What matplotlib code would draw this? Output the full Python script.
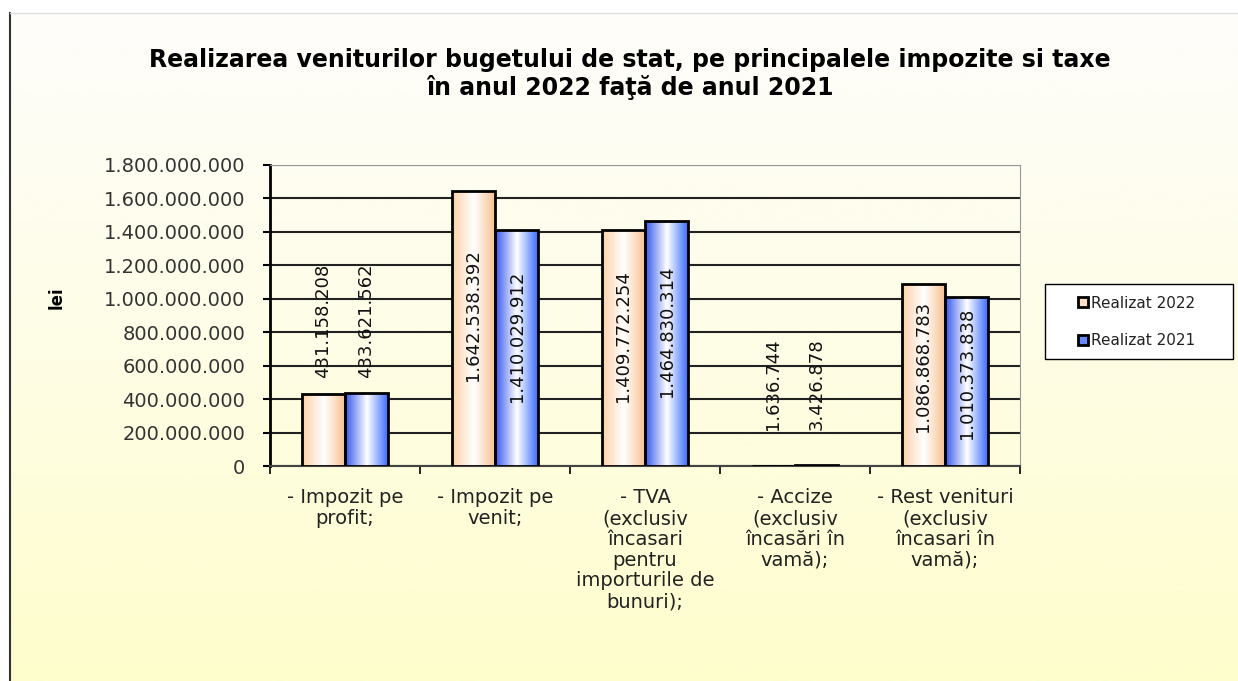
import matplotlib
matplotlib.use("Agg")
import matplotlib.pyplot as plt
from matplotlib.colors import LinearSegmentedColormap
from matplotlib.patches import Patch, Rectangle
from matplotlib.ticker import FuncFormatter, MultipleLocator
import numpy as np

plt.rcParams['font.family'] = ['DejaVu Sans']

categorii = [
    "- Impozit pe\nprofit;",
    "- Impozit pe\nvenit;",
    "- TVA\n(exclusiv\nîncasari\npentru\nimporturile de\nbunuri);",
    "- Accize\n(exclusiv\nîncasări în\nvamă);",
    "- Rest venituri\n(exclusiv\nîncasari în\nvamă);",
]
realizat_2022 = [431158208, 1642538392, 1409772254, 1636744, 1086868783]
realizat_2021 = [433621562, 1410029912, 1464830314, 3426878, 1010373838]
serii = ["Realizat 2022", "Realizat 2021"]

def fmt_ro(v, pos=None):
    return f"{int(v):,}".replace(",", ".")

fig = plt.figure(figsize=(12.38, 6.81), dpi=100)
fig.patch.set_facecolor("white")

# fundal cu gradient (zona graficului)
bg = fig.add_axes([10 / 1238, 0, 1 - 10 / 1238, (681 - 13) / 681], zorder=-1)
grad = np.linspace(0, 1, 256).reshape(-1, 1)
cm_bg = LinearSegmentedColormap.from_list("bg", ["#fefefb", "#fefde6", "#fffdcc"])
bg.imshow(grad, aspect="auto", cmap=cm_bg, extent=[0, 1, 0, 1], origin="upper")
bg.set_xticks([])
bg.set_yticks([])
for s in ["right", "bottom"]:
    bg.spines[s].set_visible(False)
bg.spines["left"].set_color("#333333")
bg.spines["left"].set_linewidth(1.5)
bg.spines["top"].set_color("#dddddd")
bg.spines["top"].set_linewidth(1)

ax = fig.add_axes([270 / 1238, 215 / 681, 750 / 1238, 301 / 681])
ax.set_facecolor("none")

x = np.arange(len(categorii))
w = 0.287
culori_margine = ["#fcc89a", "#3a5cf0"]
cmaps = [
    LinearSegmentedColormap.from_list("o", ["#fdd1a8", "#ffffff", "#f7bd8a"]),
    LinearSegmentedColormap.from_list("b", ["#3355ee", "#ffffff", "#3366ff"]),
]

ax.set_xlim(-0.5, len(categorii) - 0.5)
ax.set_ylim(0, 1800000000)

for i, vals in enumerate([realizat_2022, realizat_2021]):
    pos = x - w / 2 + i * w
    bars = ax.bar(pos, vals, w, color=culori_margine[i], zorder=3)
    hgrad = np.linspace(0, 1, 256).reshape(1, -1)
    for b in bars:
        x0, y0 = b.get_x(), b.get_y()
        im = ax.imshow(hgrad, aspect="auto", cmap=cmaps[i],
                       extent=[x0, x0 + b.get_width(), y0, y0 + b.get_height()],
                       zorder=3.5)
        im.set_clip_path(b)
    ax.bar(pos, vals, w, facecolor="none", edgecolor="black", linewidth=2, zorder=4)
    for p, v in zip(pos, vals):
        if v > 600000000:
            ax.text(p, v * 0.55, fmt_ro(v), rotation=90, ha="center", va="center",
                    fontsize=13, color="#111111", zorder=6)
        else:
            ax.text(p, max(v + 95000000, 215000000), fmt_ro(v), rotation=90,
                    ha="center", va="bottom", fontsize=13, color="#111111", zorder=6)

ax.set_xlim(-0.5, len(categorii) - 0.5)
ax.set_ylim(0, 1800000000)

ax.yaxis.set_major_locator(MultipleLocator(200000000))
ax.yaxis.set_major_formatter(FuncFormatter(fmt_ro))
ax.grid(axis="y", color="#222222", linewidth=1.5, zorder=1)
ax.set_axisbelow(True)
ax.tick_params(axis="y", direction="out", length=5, width=1.5, pad=13,
               labelsize=14, labelcolor="#333333")

ax.set_xticks(x)
ax.set_xticklabels(categorii, fontsize=14, color="#222222", linespacing=1.12, va="top")
ax.set_xticks(np.arange(len(categorii) + 1) - 0.5, minor=True)
ax.tick_params(axis="x", which="major", length=0, pad=16)
ax.tick_params(axis="x", which="minor", length=6, width=1.2)

ax.spines["left"].set_linewidth(2)
ax.spines["left"].set_color("black")
ax.spines["bottom"].set_linewidth(1.5)
ax.spines["bottom"].set_color("#444444")
ax.spines["right"].set_color("#999999")
ax.spines["top"].set_color("#999999")

fig.text(57 / 1238, 1 - 298 / 681, "lei", rotation=90, fontsize=12,
         fontweight="bold", ha="center", va="center")

fig.text(630 / 1238, 1 - 74 / 681,
         "Realizarea veniturilor bugetului de stat, pe principalele impozite si taxe\n"
         "în anul 2022 faţă de anul 2021",
         fontsize=17, fontweight="bold", ha="center", va="center", linespacing=1.2)

# cadrul legendei
fig.patches.append(Rectangle((1045 / 1238, 1 - 359 / 681), 188 / 1238, 75 / 681,
                             transform=fig.transFigure, facecolor="white",
                             edgecolor="black", linewidth=1, zorder=1))
handles = [Patch(facecolor="#fde2c8", edgecolor="black", linewidth=2),
           Patch(facecolor="#6688ff", edgecolor="black", linewidth=2)]
leg = fig.legend(handles, serii, loc="center",
                 bbox_to_anchor=(1137 / 1238, 1 - 322 / 681),
                 fontsize=11, frameon=False, handlelength=0.6,
                 handleheight=0.6, handletextpad=0.25, labelspacing=1.5,
                 borderpad=0, borderaxespad=0)
for t in leg.get_texts():
    t.set_color("#222222")

fig.savefig("out.png", dpi=100)
